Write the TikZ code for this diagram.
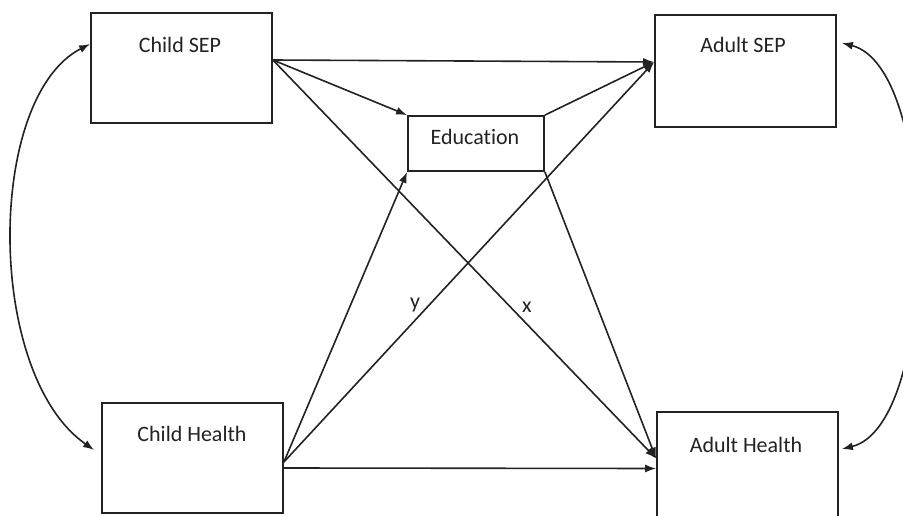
\documentclass[tikz,border=0pt]{standalone}
\usepackage{fontspec}
\setmainfont{Carlito}[Ligatures=NoCommon]
\usetikzlibrary{arrows.meta}
\definecolor{ink}{HTML}{222222}
\tikzset{
  box/.style={draw=ink, line width=1.8pt, minimum width=#1, inner sep=0pt},
  lbl/.style={anchor=base, inner sep=0pt, text=ink, font=\fontsize{22}{26}\selectfont},
  link/.style={draw=ink, line width=1.6pt, -{Latex[length=11pt,width=8pt]}},
  corr/.style={draw=ink, line width=1.6pt, {Latex[length=11pt,width=8pt]}-{Latex[length=11pt,width=8pt]}}
}
\begin{document}
\begin{tikzpicture}[x=1pt,y=-1pt]
\useasboundingbox (0,0) rectangle (903,516);
\clip (0,0) rectangle (903,516);

% boxes
\node[box=181pt, minimum height=110pt] (csep)    at (181.5,68)  {};
\node[box=181pt, minimum height=112pt] (asep)    at (745.5,71)  {};
\node[box=136pt, minimum height=55pt]  (edu)     at (476,143.5) {};
\node[box=181pt, minimum height=110pt] (chealth) at (192.5,458) {};
\node[box=181pt, minimum height=113pt] (ahealth) at (747.5,468.5) {};

% box titles
\node[lbl] (csepT)    at (180,53)  {Child SEP};
\node[lbl] (asepT)    at (743,53)  {Adult SEP};
\node[lbl] (eduT)     at (475,145) {Education};
\node[lbl] (chealthT) at (192,441) {Child Health};
\node[lbl] (ahealthT) at (746,452) {Adult Health};

% paths from childhood SEP
\draw[link] ([yshift=8pt]csep.east) -- ([yshift=9pt]asep.west);
\draw[link] ([yshift=8pt]csep.east) -- (edu.north west);
\draw[link] ([yshift=8pt]csep.east) -- ([yshift=10pt]ahealth.west);

% paths from childhood health
\draw[link] ([yshift=-4pt]chealth.east) -- (edu.south west);
\draw[link] ([yshift=-4pt]chealth.east) -- ([yshift=9pt]asep.west);
\draw[link] ([yshift=-10pt]chealth.east) -- (ahealth.west);

% paths from education
\draw[link] (edu.north east) -- ([yshift=9pt]asep.west);
\draw[link] (edu.south east) -- ([yshift=10pt]ahealth.west);

% correlations
\draw[corr] ([yshift=24pt]csep.west) .. controls (-14,97) and (-15,374) .. ([xshift=-7pt,yshift=8pt]chealth.west);
\draw[corr] ([xshift=5pt,yshift=28pt]asep.east) .. controls (940,68) and (940,425) .. ([xshift=3pt,yshift=19.5pt]ahealth.east);

% path labels
\node[lbl] (ylab) at (415,308) {y};
\node[lbl] (xlab) at (527,312) {x};
\end{tikzpicture}
\end{document}
